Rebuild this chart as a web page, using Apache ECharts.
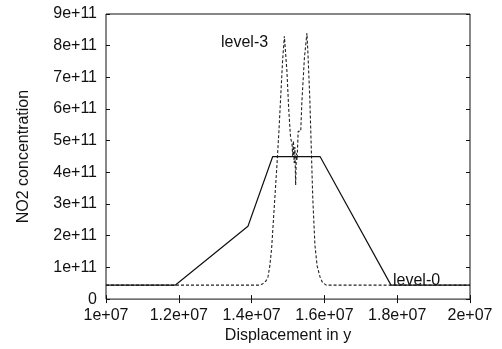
<!DOCTYPE html>
<html>
<head>
<meta charset="utf-8">
<script src="https://cdn.jsdelivr.net/npm/echarts@6/dist/echarts.min.js"></script>
<style>
  html, body { margin: 0; padding: 0; background: #fff; }
  #chart { width: 502px; height: 349px; }
</style>
</head>
<body>
<div id="chart"></div>
<script>
// level-0: coarse grid, piecewise linear
const level0X = [1.0e7, 1.19e7, 1.39e7, 1.458e7, 1.588e7, 1.783e7, 2.0e7]
const level0Y = [4.4e10, 4.4e10, 2.3e11, 4.5e11, 4.5e11, 4.4e10, 4.4e10]

// level-3: refined grid, two sharp peaks
const level3X = [
  1.0e7, 1.42e7, 1.43e7, 1.44e7, 1.445e7, 1.45e7, 1.455e7, 1.46e7, 1.465e7, 1.47e7,
  1.475e7, 1.48e7, 1.485e7, 1.49e7, 1.493e7, 1.497e7, 1.502e7, 1.507e7, 1.511e7, 1.513e7,
  1.515e7, 1.517e7, 1.519e7, 1.521e7, 1.523e7, 1.525e7, 1.528e7, 1.535e7, 1.538e7, 1.545e7,
  1.552e7, 1.555e7, 1.56e7, 1.568e7, 1.574e7, 1.58e7, 1.588e7, 1.595e7, 1.605e7, 2.0e7
]
const level3Y = [
  4.4e10, 4.4e10, 4.8e10, 5.8e10, 7.0e10, 1.05e11, 1.6e11, 2.5e11, 3.4e11, 4.3e11,
  5.3e11, 6.4e11, 7.5e11, 8.3e11, 8.35e11, 7.2e11, 6.0e11, 5.1e11, 4.9e11, 4.5e11,
  5.0e11, 4.3e11, 4.8e11, 3.6e11, 4.6e11, 4.4e11, 5.3e11, 5.3e11, 6.2e11, 7.6e11,
  8.4e11, 7.7e11, 6.3e11, 3.2e11, 1.7e11, 1.05e11, 7.0e10, 5.2e10, 4.4e10, 4.4e10
]

const xTickLabels = ['1e+07', '1.2e+07', '1.4e+07', '1.6e+07', '1.8e+07', '2e+07']
const yTickLabels = ['0', '1e+11', '2e+11', '3e+11', '4e+11', '5e+11', '6e+11', '7e+11', '8e+11', '9e+11']

const font = 'Liberation Sans, Arial, sans-serif'
const ink = '#111'

const zip = (xs, ys) => xs.map((x, i) => [x, ys[i]])

const chart = echarts.init(document.getElementById('chart'), null, { renderer: 'canvas' })

const hiddenX = {
  type: 'value', min: 1e7, max: 2e7, interval: 2e6,
  axisLine: { show: false }, splitLine: { show: false }, axisLabel: { show: false },
  axisTick: { show: true, inside: true, length: 4, lineStyle: { color: ink } },
}
const hiddenY = {
  type: 'value', min: 0, max: 9e11, interval: 1e11,
  axisLine: { show: false }, splitLine: { show: false }, axisLabel: { show: false },
  axisTick: { show: true, inside: true, length: 4, lineStyle: { color: ink } },
}

chart.setOption({
  animation: false,
  backgroundColor: '#fff',
  grid: {
    left: 106, right: 32, top: 14, bottom: 46,
    show: true, borderColor: ink, borderWidth: 1, backgroundColor: 'transparent',
  },
  xAxis: [
    {
      ...hiddenX,
      position: 'bottom',
      axisLabel: {
        show: true, margin: 8, fontFamily: font, fontSize: 16, color: ink,
        formatter: (v, i) => xTickLabels[i],
      },
      name: 'Displacement in y',
      nameLocation: 'middle',
      nameGap: 28,
      nameTextStyle: { fontFamily: font, fontSize: 16, color: ink },
    },
    { ...hiddenX, position: 'top' },
  ],
  yAxis: [
    {
      ...hiddenY,
      position: 'left',
      axisLabel: {
        show: true, margin: 9, fontFamily: font, fontSize: 16, color: ink,
        formatter: (v, i) => yTickLabels[i],
      },
      name: 'NO2 concentration',
      nameLocation: 'middle',
      nameGap: 74,
      nameTextStyle: { fontFamily: font, fontSize: 16, color: ink },
    },
    { ...hiddenY, position: 'right' },
  ],
  series: [
    {
      name: 'level-0',
      type: 'line',
      data: zip(level0X, level0Y),
      symbol: 'none',
      lineStyle: { color: ink, width: 1.2 },
      z: 3,
    },
    {
      name: 'level-3',
      type: 'line',
      data: zip(level3X, level3Y),
      symbol: 'none',
      lineStyle: { color: '#222', width: 1.1, type: [3, 2] },
      z: 2,
    },
  ],
  graphic: [
    {
      type: 'text', left: 221, top: 35,
      style: { text: 'level-3', fontFamily: font, fontSize: 16, fill: ink },
    },
    {
      type: 'text', left: 393, top: 273,
      style: { text: 'level-0', fontFamily: font, fontSize: 16, fill: ink },
    },
  ],
})
</script>
</body>
</html>
